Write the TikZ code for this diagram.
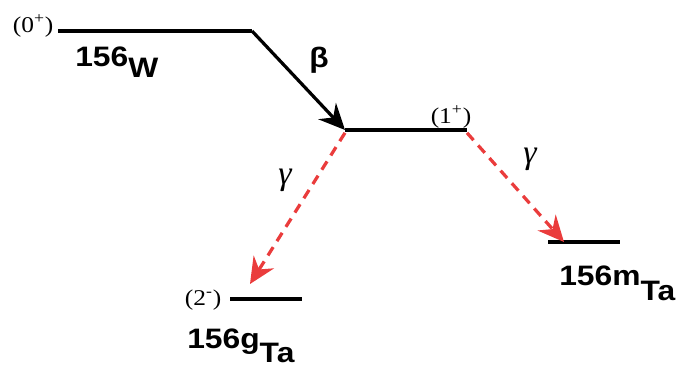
\documentclass[tikz,border=0pt]{standalone}
\usepackage{fontspec}
\usepackage{graphicx}
\setmainfont{Liberation Serif}
\setsansfont{Liberation Sans}
\usetikzlibrary{arrows, arrows.meta, positioning}
\definecolor{gammared}{RGB}{234,60,60}
\newcommand{\widetext}[1]{\scalebox{1.13}[1]{#1}}

\begin{document}
\begin{tikzpicture}[x=0.025cm, y=-0.025cm,
    level/.style={line width=2.3pt, black},
    decay/.style={-{Stealth[length=6.5mm, width=6mm, inset=2.2mm]}, line width=2.3pt},
    gamma/.style={decay, gammared, dash pattern=on 7pt off 5pt},
    spin/.style={font=\fontsize{16}{18}\selectfont, inner sep=1pt},
    nuclide/.style={font=\sffamily\bfseries\fontsize{20}{24}\selectfont, inner sep=0pt, anchor=base west},
    sym/.style={font=\itshape\fontsize{24}{28}\selectfont, inner sep=0pt}]
    \useasboundingbox (0,0) rectangle (687,370);

    % levels
    \coordinate (wL) at (58,31);   \coordinate (wR) at (252,31);
    \coordinate (iL) at (345,130); \coordinate (iR) at (467,130);
    \coordinate (mL) at (548,242); \coordinate (mR) at (620,242);
    \coordinate (gL) at (230,299); \coordinate (gR) at (302,299);
    \draw[level] (wL) -- (wR);
    \draw[level] (iL) -- (iR);
    \draw[level] (mL) -- (mR);
    \draw[level] (gL) -- (gR);

    % spins
    \node[spin, anchor=base east] (spinw) at (55,32) {\widetext{(0\textsuperscript{+})}};
    \node[spin, anchor=base] (spini) at (451,123) {\widetext{(1\textsuperscript{+})}};
    \node[spin, anchor=base east] (sping) at (223,305) {\widetext{(2\textsuperscript{-})}};

    % nuclides
    \node[nuclide] (nw) at (75,66) {\widetext{156\raisebox{-0.4em}{W}}};
    \node[nuclide] (ng) at (187,348) {\widetext{156g\raisebox{-0.5em}{Ta}}};
    \node[nuclide] (nm) at (559,285) {\widetext{156m\raisebox{-0.55em}{Ta}}};

    % transitions
    \draw[decay] (wR) -- (iL);
    \draw[gamma] ([yshift=-2pt]iL) -- (250,284) coordinate (gtip);
    \draw[gamma] ([yshift=-2pt]iR) -- (564,242) coordinate (mtip);
    \node[nuclide, anchor=center] (beta) at (319,60) {\widetext{β}};
    \node[sym] (gam1) at (285,180) {γ};
    \node[sym] (gam2) at (530,159) {γ};
\end{tikzpicture}
\end{document}
